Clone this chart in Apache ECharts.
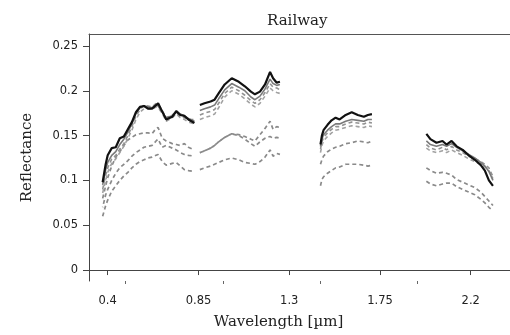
<!DOCTYPE html>
<html>
<head>
<meta charset="utf-8">
<script src="https://cdn.jsdelivr.net/npm/echarts@6/dist/echarts.min.js"></script>
<style>
html,body{margin:0;padding:0;background:#fff;}
#chart1{width:510px;height:335px;}
</style>
</head>
<body>
<div id="chart1"></div>
<script>
// wavelengths (um) of the four spectral windows, water bands left out
var wlSeg1 = [0.375,0.39,0.40,0.42,0.44,0.46,0.48,0.50,0.52,0.54,0.56,0.58,0.60,0.62,0.64,0.65,0.67,0.69,0.72,0.74,0.76,0.78,0.80,0.83];
var wlSeg2 = [0.857,0.88,0.91,0.93,0.95,0.98,1.015,1.05,1.08,1.11,1.13,1.155,1.18,1.205,1.22,1.238,1.254];
var wlSeg3 = [1.455,1.462,1.47,1.49,1.51,1.53,1.55,1.58,1.61,1.64,1.67,1.69,1.71];
var wlSeg4 = [1.98,2.0,2.03,2.06,2.08,2.105,2.13,2.16,2.19,2.22,2.25,2.27,2.29,2.31];

// reflectance per spectrum, one array per window (null = not shown)
var refA = [
	[0.098,0.118,0.128,0.136,0.137,0.147,0.149,0.157,0.165,0.176,0.182,0.183,0.180,0.180,0.184,0.186,0.177,0.168,0.171,0.177,0.173,0.172,0.168,0.164],
	[0.184,0.186,0.188,0.190,0.197,0.207,0.214,0.210,0.205,0.199,0.196,0.199,0.207,0.221,0.214,0.209,0.210],
	[0.140,0.150,0.156,0.162,0.167,0.170,0.168,0.173,0.176,0.173,0.171,0.173,0.174],
	[0.152,0.146,0.142,0.144,0.140,0.144,0.138,0.134,0.128,0.123,0.117,0.111,0.100,0.094]
];
var refB = [
	[0.095,0.112,0.120,0.128,0.132,0.140,0.146,0.154,0.163,0.175,0.181,0.183,0.182,0.181,0.184,0.183,0.176,0.170,0.172,0.178,0.174,0.172,0.169,0.166],
	[0.178,0.180,0.182,0.184,0.191,0.201,0.208,0.204,0.200,0.193,0.190,0.194,0.202,0.213,0.208,0.206,0.207],
	[0.138,0.146,0.151,0.156,0.160,0.163,0.163,0.166,0.168,0.167,0.166,0.168,0.168],
	[0.144,0.140,0.138,0.140,0.138,0.141,0.137,0.133,0.129,0.125,0.120,0.116,0.110,0.100]
];
var refC = [
	[0.090,0.106,0.114,0.124,0.128,0.135,0.141,0.150,0.160,0.172,0.179,0.184,0.183,0.182,0.186,0.185,0.178,0.170,0.173,0.176,0.171,0.170,0.168,0.168],
	[0.173,0.175,0.177,0.179,0.186,0.197,0.204,0.200,0.195,0.189,0.186,0.190,0.198,0.208,0.204,0.203,0.201],
	[0.135,0.143,0.148,0.153,0.157,0.160,0.160,0.163,0.165,0.164,0.163,0.165,0.164],
	[0.140,0.136,0.134,0.137,0.134,0.138,0.134,0.131,0.127,0.124,0.121,0.118,0.114,0.104]
];
var refD = [
	[0.086,0.100,0.109,0.119,0.124,0.131,0.138,0.147,0.156,0.168,0.176,0.180,0.180,0.179,0.182,0.181,0.175,0.166,0.170,0.174,0.170,0.168,0.165,0.163],
	[0.168,0.170,0.172,0.174,0.181,0.193,0.200,0.196,0.191,0.185,0.182,0.186,0.194,0.203,0.200,0.198,0.197],
	[0.131,0.139,0.144,0.149,0.153,0.156,0.157,0.159,0.161,0.160,0.159,0.161,0.160],
	[0.136,0.133,0.131,0.133,0.131,0.134,0.131,0.128,0.124,0.121,0.118,0.115,0.111,0.102]
];
var refE = [
	[0.080,0.094,0.103,0.116,0.126,0.132,0.139,0.145,0.148,0.151,0.152,0.153,0.153,0.152,0.158,0.159,0.147,0.144,0.141,0.140,0.139,0.141,0.137,0.134],
	[0.131,0.133,0.136,0.139,0.143,0.148,0.152,0.151,0.149,0.146,0.144,0.151,0.158,0.166,0.157,0.160,0.159],
	[0.118,0.123,0.127,0.132,0.135,0.137,0.138,0.141,0.142,0.144,0.143,0.142,0.144],
	[0.114,0.111,0.108,0.109,0.108,0.106,0.101,0.098,0.095,0.092,0.087,0.082,0.077,0.072]
];
var refF = [
	[0.070,0.084,0.090,0.100,0.108,0.114,0.118,0.122,0.127,0.131,0.134,0.137,0.138,0.139,0.144,0.146,0.137,0.139,0.136,0.134,0.131,0.129,0.128,0.127],
	[0.131,0.133,0.136,0.139,0.143,0.148,0.152,0.150,0.146,0.141,0.138,0.143,0.147,0.149,0.147,0.148,0.147],
	null,
	null
];
var refG = [
	[0.060,0.072,0.078,0.088,0.094,0.100,0.105,0.109,0.114,0.118,0.121,0.123,0.125,0.126,0.128,0.129,0.121,0.117,0.119,0.120,0.116,0.112,0.111,0.110],
	[0.112,0.114,0.116,0.118,0.120,0.123,0.125,0.123,0.120,0.119,0.118,0.121,0.126,0.134,0.127,0.130,0.129],
	[0.094,0.101,0.104,0.108,0.111,0.114,0.115,0.118,0.118,0.118,0.117,0.116,0.117],
	[0.099,0.096,0.094,0.096,0.097,0.097,0.093,0.090,0.087,0.084,0.079,0.075,0.070,0.066]
];

var xTicks = [0.4, 0.85, 1.3, 1.75, 2.2];
var xMinorTicks = [0.489, 0.972, 1.453, 1.934];
var yTicks = [0, 0.05, 0.1, 0.15, 0.2, 0.25];

var wlSegs = [wlSeg1, wlSeg2, wlSeg3, wlSeg4];
// drawn bottom to top, black last
var spectra = [refG, refF, refE, refD, refC, refB, refA];
var styles = [
	{color:'#8a8a8a', width:1.7, type:[4,3]},
	{color:'#8a8a8a', width:1.7, type:[4,3], dashOffset:3.5},
	{color:'#8a8a8a', width:1.7, type:[4,3]},
	{color:'#a2a2a2', width:1.6, type:[4,3]},
	{color:'#929292', width:1.6, type:[4,3]},
	{color:'#7a7a7a', width:1.6, type:'solid'},
	{color:'#111111', width:2.2, type:'solid'}
];

var xMin = 0.3073, xMax = 2.3946;
var yMin = -0.0122, yMax = 0.2633;

function fmt(v){ return String(parseFloat(Number(v).toFixed(3))); }

var series = [];
spectra.forEach(function(spec, i){
	spec.forEach(function(vals, s){
		if (!vals) return;
		series.push({
			type : 'line',
			xAxisIndex : 0,
			yAxisIndex : 0,
			symbol : 'none',
			silent : true,
			z : 2 + i,
			lineStyle : styles[i],
			data : wlSegs[s].map(function(w, k){ return [w, vals[k]]; })
		});
	});
});

var myChart = echarts.init(document.getElementById('chart1'));
var option = {
	animation : false,
	title : {
		text : 'Railway',
		left : 262,
		top : 9,
		textStyle : {fontFamily:'DejaVu Serif', fontSize:15, fontWeight:'normal', color:'#222'}
	},
	grid : {left:89, top:34, right:0, bottom:53},
	xAxis : [
		{
			type : 'value', min : xMin, max : xMax, position : 'bottom',
			axisLine : {show:true, lineStyle:{color:'#444'}},
			axisTick : {show:true, length:5, customValues:xTicks, lineStyle:{color:'#444'}},
			axisLabel : {customValues:xTicks, margin:14, fontFamily:'DejaVu Sans', fontSize:11.5, color:'#222', formatter:fmt},
			splitLine : {show:false},
			name : 'Wavelength [µm]',
			nameLocation : 'middle',
			nameGap : 34,
			nameTextStyle : {fontFamily:'DejaVu Serif', fontSize:15, color:'#222', padding:[0,42,0,0]}
		},
		{
			// small unlabelled ticks
			type : 'value', min : xMin, max : xMax, position : 'bottom',
			axisLine : {show:false},
			axisTick : {show:true, length:3, customValues:xMinorTicks, lineStyle:{color:'#666'}},
			axisLabel : {show:false},
			splitLine : {show:false}
		},
		{
			// top frame line
			type : 'value', min : xMin, max : xMax, position : 'top',
			axisLine : {show:true, lineStyle:{color:'#555'}},
			axisTick : {show:false},
			axisLabel : {show:false},
			splitLine : {show:false}
		}
	],
	yAxis : {
		type : 'value', min : yMin, max : yMax,
		axisLine : {show:true, lineStyle:{color:'#444'}},
		axisTick : {show:true, length:6, customValues:yTicks, lineStyle:{color:'#444'}},
		axisLabel : {customValues:yTicks, margin:11, fontFamily:'DejaVu Sans', fontSize:11.5, color:'#222', formatter:fmt},
		splitLine : {show:false},
		name : 'Reflectance',
		nameLocation : 'middle',
		nameGap : 54,
		nameTextStyle : {fontFamily:'DejaVu Serif', fontSize:15, color:'#222'}
	},
	series : series
};
myChart.setOption(option);
</script>
</body>
</html>
